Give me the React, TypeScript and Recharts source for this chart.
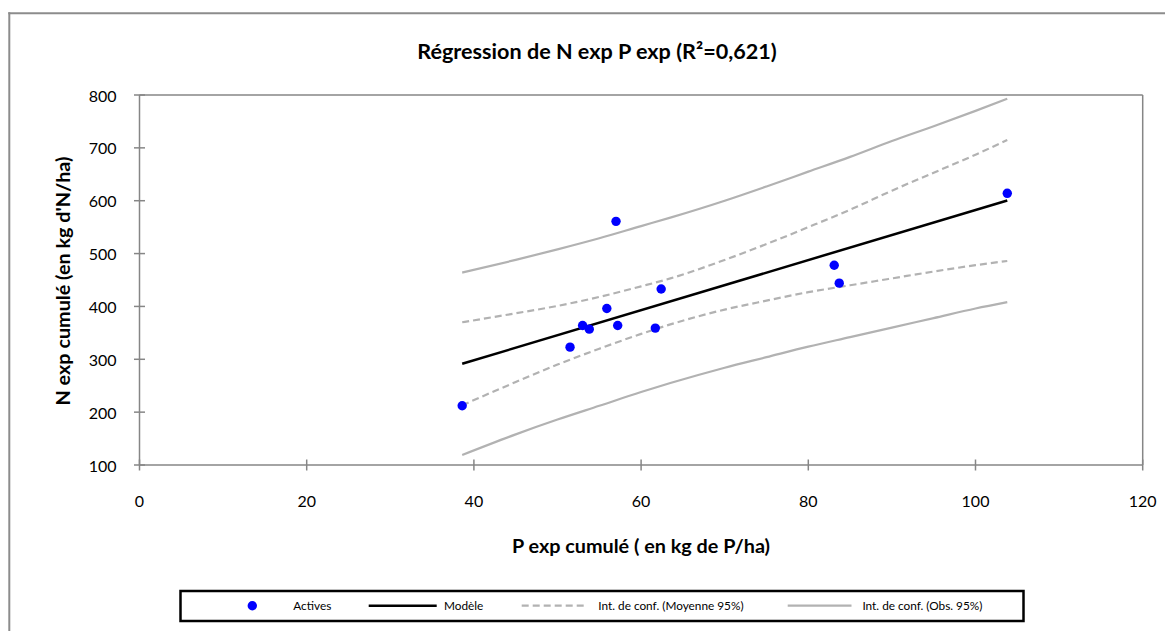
import React from "react";
import { ComposedChart, XAxis, YAxis, Line, Scatter, ReferenceLine } from "recharts";

// ---- data ----
const pointX = [38.6, 51.5, 53.0, 53.8, 55.9, 57.0, 57.2, 61.7, 62.4, 83.1, 83.7, 103.8];
const pointY = [212, 323, 364, 357, 396, 561, 364, 359, 433, 478, 444, 614];

const modelX = [38.6, 103.8];
const modelY = [291.5, 600.5];

const bandX = [38.6, 45, 50, 55, 60, 63.5, 70, 75, 80, 85, 90, 95, 100, 103.8];
const meanUpper = [370, 387, 401, 418, 438, 453, 488, 518, 550, 583, 619, 653, 687, 715];
const meanLower = [213, 257, 290, 320, 348, 366, 394, 411, 427, 440, 453, 466, 478, 486];
const obsUpper = [464, 488, 508, 529, 552, 568, 600, 627, 655, 683, 713, 741, 770, 793];
const obsLower = [119, 158, 186, 212, 238, 255, 284, 304, 324, 342, 360, 378, 396, 408];

const xTicks = [0, 20, 40, 60, 80, 100, 120];
const yTicks = [100, 200, 300, 400, 500, 600, 700, 800];

const title = "Régression de N exp P exp (R²=0,621)";
const xTitle = "P exp cumulé ( en kg de P/ha)";
const yTitle = "N exp cumulé (en kg d'N/ha)";
const legendLabels = ["Actives", "Modèle", "Int. de conf. (Moyenne 95%)", "Int. de conf. (Obs. 95%)"];

const points = pointX.map((x, i) => ({ x, y: pointY[i] }));
const model = modelX.map((x, i) => ({ x, y: modelY[i] }));
const mkBand = (ys: number[]) => bandX.map((x, i) => ({ x, y: ys[i] }));

const AXIS = "#868686";
const BAND = "#b2b2b2";
const FONT = "Lato, 'Open Sans', sans-serif";
const DASH = "7 4";

const XTick = (props: any) => {
  const { x, y, payload } = props;
  return (
    <g>
      <line x1={x} x2={x} y1={y - 5.5} y2={y + 5.5} stroke={AXIS} strokeWidth={1.5} />
      <text x={x} y={y + 35} textAnchor="middle" dominantBaseline="central" fontFamily={FONT} fontSize={16} fill="#000">
        {payload.value}
      </text>
    </g>
  );
};

const YTick = (props: any) => {
  const { x, y, payload } = props;
  return (
    <g>
      <line x1={x - 5.5} x2={x + 5.5} y1={y} y2={y} stroke={AXIS} strokeWidth={1.5} />
      <text x={x - 23} y={y} textAnchor="end" dominantBaseline="central" fontFamily={FONT} fontSize={16} fill="#000">
        {payload.value}
      </text>
    </g>
  );
};

const Dot = (props: any) => <circle cx={props.cx} cy={props.cy} r={4.7} fill="#0000FF" />;

export default function App() {
  const W = 1165;
  const H = 623;
  const ly = 597.7;
  const lf = 11.8;
  return (
    <div style={{ position: "relative", width: W, height: H, overflow: "hidden", background: "#fff" }}>
      <ComposedChart
        width={W}
        height={H}
        margin={{ top: 87, right: 30.3, left: 71.5, bottom: 136 }}
      >
        <XAxis
          type="number"
          dataKey="x"
          domain={[0, 120]}
          ticks={xTicks}
          interval={0}
          height={30}
          tickLine={false}
          tickSize={0}
          tickMargin={0}
          axisLine={{ stroke: AXIS, strokeWidth: 1.5 }}
          tick={<XTick />}
          allowDataOverflow
        />
        <YAxis
          type="number"
          dataKey="y"
          domain={[100, 800]}
          ticks={yTicks}
          interval={0}
          width={60}
          tickLine={false}
          tickSize={0}
          tickMargin={0}
          axisLine={{ stroke: AXIS, strokeWidth: 1.5 }}
          tick={<YTick />}
          allowDataOverflow
        />
        <ReferenceLine y={800} stroke={AXIS} strokeWidth={1.5} />
        <ReferenceLine x={120} stroke={AXIS} strokeWidth={1.5} />
        <Line data={mkBand(obsUpper)} dataKey="y" type="monotone" stroke={BAND} strokeWidth={2.2} dot={false} isAnimationActive={false} />
        <Line data={mkBand(obsLower)} dataKey="y" type="monotone" stroke={BAND} strokeWidth={2.2} dot={false} isAnimationActive={false} />
        <Line data={mkBand(meanUpper)} dataKey="y" type="monotone" stroke={BAND} strokeWidth={2.2} strokeDasharray={DASH} dot={false} isAnimationActive={false} />
        <Line data={mkBand(meanLower)} dataKey="y" type="monotone" stroke={BAND} strokeWidth={2.2} strokeDasharray={DASH} dot={false} isAnimationActive={false} />
        <Line data={model} dataKey="y" type="linear" stroke="#000" strokeWidth={2.5} dot={false} isAnimationActive={false} />
        <Scatter data={points} dataKey="y" fill="#0000FF" shape={<Dot />} isAnimationActive={false} />
      </ComposedChart>
      <svg width={W} height={H} style={{ position: "absolute", left: 0, top: 0, pointerEvents: "none" }}>
        <line x1={1.3} x2={1.3} y1={4.3} y2={H} stroke="#8c8c8c" strokeWidth={2} />
        <line x1={0.3} x2={W} y1={5.3} y2={5.3} stroke="#8c8c8c" strokeWidth={2} />
        <text x={589} y={42.7} textAnchor="middle" dominantBaseline="central" fontFamily={FONT} fontWeight="bold" fontSize={21.6} fill="#000">
          {title}
        </text>
        <text x={633} y={537} textAnchor="middle" dominantBaseline="central" fontFamily={FONT} fontWeight="bold" fontSize={19.8} fill="#000">
          {xTitle}
        </text>
        <text x={54} y={273} transform="rotate(-90, 54, 273)" textAnchor="middle" dominantBaseline="central" fontFamily={FONT} fontWeight="bold" fontSize={19.8} fill="#000">
          {yTitle}
        </text>
        <rect x={172.5} y={583} width={843} height={30} fill="#fff" stroke="#000" strokeWidth={2.5} />
        <circle cx={244.3} cy={ly} r={4.7} fill="#0000FF" />
        <text x={285.3} y={ly} dominantBaseline="central" fontFamily={FONT} fontSize={lf} fill="#000">{legendLabels[0]}</text>
        <line x1={360.7} x2={428.7} y1={ly} y2={ly} stroke="#000" strokeWidth={2.5} />
        <text x={436} y={ly} dominantBaseline="central" fontFamily={FONT} fontSize={lf} fill="#000">{legendLabels[1]}</text>
        <line x1={513.7} x2={579} y1={ly} y2={ly} stroke={BAND} strokeWidth={2.2} strokeDasharray={DASH} />
        <text x={590.3} y={ly} dominantBaseline="central" fontFamily={FONT} fontSize={lf} fill="#000">{legendLabels[2]}</text>
        <line x1={779.7} x2={843.5} y1={ly} y2={ly} stroke={BAND} strokeWidth={2.2} />
        <text x={854.4} y={ly} dominantBaseline="central" fontFamily={FONT} fontSize={lf} fill="#000">{legendLabels[3]}</text>
      </svg>
    </div>
  );
}
